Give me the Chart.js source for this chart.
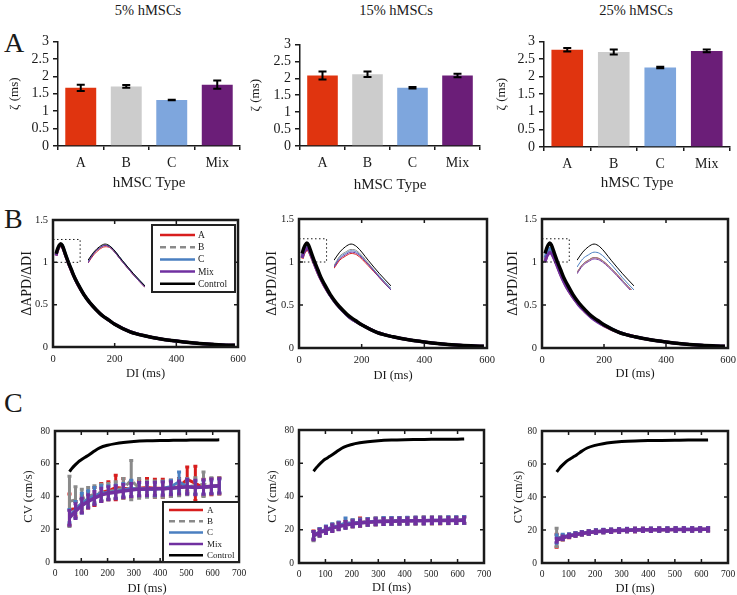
<!DOCTYPE html>
<html>
<head>
<meta charset="utf-8">
<title>hMSC coupling figure</title>
<script src="https://cdn.jsdelivr.net/npm/chart.js@4.4.1/dist/chart.umd.min.js"></script>
<style>
  html, body { margin: 0; padding: 0; background: #fff; }
  body { width: 737px; height: 595px; overflow: hidden; position: relative;
         font-family: "Liberation Serif", "Times New Roman", serif; color: #1a1a1a; }
  .panel { position: absolute; }
  .panel canvas { display: block; }
  .txt { position: absolute; transform: translate(-50%, -50%); white-space: nowrap; }
  .head { font-size: 14.5px; }
  .letter { font-size: 28px; transform: translate(0, -50%); }
</style>
</head>
<body>
<div class="txt head" style="left:148px;top:10px">5% hMSCs</div>
<div class="txt head" style="left:396px;top:10px">15% hMSCs</div>
<div class="txt head" style="left:636px;top:10px">25% hMSCs</div>
<div class="txt letter" style="left:4px;top:43px">A</div>
<div class="txt letter" style="left:4px;top:219px">B</div>
<div class="txt letter" style="left:4px;top:403px">C</div>

<script>
const FONT = '"Liberation Serif", "Times New Roman", serif';
const INK = '#1a1a1a';

// ---- row A: zeta per hMSC type ----
const hmscTypes = ['A', 'B', 'C', 'Mix'];
const zetaTicks = [0, 0.5, 1, 1.5, 2, 2.5, 3];
const zeta5 = [1.67, 1.71, 1.32, 1.76];
const zeta5Err = [0.09, 0.04, 0.01, 0.12];
const zeta15 = [2.08, 2.12, 1.72, 2.08];
const zeta15Err = [0.12, 0.08, 0.02, 0.05];
const zeta25 = [2.76, 2.70, 2.26, 2.73];
const zeta25Err = [0.05, 0.07, 0.02, 0.04];

// ---- row B: restitution slope ----
const apdXTicks = [0, 200, 400, 600];
const apdYTicks = [0, 0.5, 1, 1.5];
const apdDI = [10, 15, 20, 25, 30, 40, 50, 60, 70, 80, 100, 120, 140, 160, 180, 200, 250, 300, 350, 400, 450, 500, 550, 590];
const apdControl = [1.10, 1.16, 1.20, 1.22, 1.20, 1.10, 1.00, 0.91, 0.82, 0.75, 0.62, 0.52, 0.44, 0.37, 0.32, 0.27, 0.18, 0.13, 0.095, 0.07, 0.05, 0.035, 0.025, 0.02];
const apd5A = [1.08, 1.14, 1.18, 1.20, 1.19, 1.09, 0.99, 0.90, 0.82, 0.74, 0.62, 0.52, 0.44, 0.37, 0.32, 0.27, 0.18, 0.13, 0.095, 0.07, 0.05, 0.035, 0.025, 0.02];
const apd5B = [1.09, 1.15, 1.19, 1.21, 1.19, 1.09, 0.99, 0.90, 0.82, 0.75, 0.62, 0.52, 0.44, 0.37, 0.32, 0.27, 0.18, 0.13, 0.095, 0.07, 0.05, 0.035, 0.025, 0.02];
const apd5C = [1.09, 1.15, 1.19, 1.21, 1.20, 1.10, 1.00, 0.91, 0.82, 0.75, 0.62, 0.52, 0.44, 0.37, 0.32, 0.27, 0.18, 0.13, 0.095, 0.07, 0.05, 0.035, 0.025, 0.02];
const apd5Mix = [1.08, 1.15, 1.19, 1.21, 1.19, 1.09, 0.99, 0.90, 0.82, 0.74, 0.62, 0.52, 0.44, 0.37, 0.32, 0.27, 0.18, 0.13, 0.095, 0.07, 0.05, 0.035, 0.025, 0.02];
const apd15A = [1.04, 1.10, 1.13, 1.15, 1.14, 1.06, 0.97, 0.88, 0.80, 0.73, 0.61, 0.51, 0.43, 0.36, 0.31, 0.27, 0.18, 0.13, 0.095, 0.07, 0.05, 0.035, 0.025, 0.02];
const apd15B = [1.06, 1.13, 1.16, 1.18, 1.17, 1.08, 0.98, 0.89, 0.81, 0.74, 0.61, 0.51, 0.43, 0.36, 0.31, 0.27, 0.18, 0.13, 0.095, 0.07, 0.05, 0.035, 0.025, 0.02];
const apd15C = [1.05, 1.12, 1.15, 1.17, 1.16, 1.07, 0.98, 0.89, 0.81, 0.74, 0.61, 0.51, 0.43, 0.36, 0.31, 0.27, 0.18, 0.13, 0.095, 0.07, 0.05, 0.035, 0.025, 0.02];
const apd15Mix = [1.05, 1.11, 1.14, 1.16, 1.15, 1.07, 0.97, 0.88, 0.80, 0.73, 0.61, 0.51, 0.43, 0.36, 0.31, 0.27, 0.18, 0.13, 0.095, 0.07, 0.05, 0.035, 0.025, 0.02];
const apd25A = [1.01, 1.07, 1.10, 1.12, 1.11, 1.04, 0.95, 0.86, 0.78, 0.71, 0.59, 0.50, 0.42, 0.36, 0.31, 0.26, 0.18, 0.13, 0.095, 0.07, 0.05, 0.035, 0.025, 0.02];
const apd25B = [1.01, 1.07, 1.10, 1.12, 1.11, 1.04, 0.95, 0.86, 0.78, 0.71, 0.59, 0.50, 0.42, 0.36, 0.31, 0.26, 0.18, 0.13, 0.095, 0.07, 0.05, 0.035, 0.025, 0.02];
const apd25C = [1.05, 1.11, 1.14, 1.16, 1.15, 1.07, 0.97, 0.88, 0.80, 0.72, 0.60, 0.51, 0.43, 0.36, 0.31, 0.27, 0.18, 0.13, 0.095, 0.07, 0.05, 0.035, 0.025, 0.02];
const apd25Mix = [1.00, 1.06, 1.09, 1.11, 1.10, 1.03, 0.94, 0.85, 0.77, 0.70, 0.59, 0.49, 0.42, 0.35, 0.30, 0.26, 0.18, 0.13, 0.095, 0.07, 0.05, 0.035, 0.025, 0.02];
// dotted window that the small inset magnifies
const zoomWindowDI = [0, 88];
const zoomWindowRatio = [1.0, 1.27];
const insetDI = [10, 60];
const insetRatio = [0.88, 1.25];

// ---- row C: conduction velocity ----
const cvXTicks = [0, 100, 200, 300, 400, 500, 600, 700];
const cvYTicks = [0, 20, 40, 60, 80];
const cvDI = [55, 78, 102, 126, 150, 176, 203, 231, 260, 290, 320, 350, 380, 410, 441, 472, 503, 534, 565, 595, 625];
const cvControlDI = [55, 65, 75, 90, 100, 115, 130, 150, 170, 200, 230, 260, 300, 350, 400, 450, 500, 550, 600, 625];
const cvControl = [55.2, 57.2, 59.0, 61.3, 62.5, 64.0, 65.5, 67.8, 69.7, 71.3, 72.3, 73.0, 73.6, 74.0, 74.2, 74.3, 74.4, 74.5, 74.5, 74.6];

const cv5A = [32, 32.5, 35.5, 38, 40, 42.5, 43.5, 45.5, 45, 44.5, 45, 45.5, 45, 45, 45, 46, 50.5, 48, 45.5, 46, 46.5];
const cv5AErr = [9.5, 4.5, 5, 5, 5.5, 5.5, 5.5, 7.5, 6, 5, 5, 5.5, 5.5, 5.5, 5, 5, 7.5, 10.5, 5, 5, 5];
const cv5B = [37, 38, 38.5, 40, 41.5, 42.5, 43, 44, 45, 50, 45, 44.5, 44.5, 44.5, 45, 45.5, 46, 46.5, 47.5, 46.5, 46.5];
const cv5BErr = [15.3, 8, 6, 5.5, 5, 5, 5, 5, 6, 12, 6, 5, 5, 5, 5, 5, 5, 5, 7.5, 5, 5];
const cv5C = [28, 32, 36, 38.5, 40.5, 42, 42.5, 43, 44, 45, 44.5, 44.5, 44.5, 45, 46, 49, 46, 45.5, 45.5, 46, 46.5];
const cv5CErr = [4, 5, 6, 5, 5, 4.5, 4, 4, 4, 5, 4, 4, 4, 4, 4, 6, 4, 4, 4, 4, 4];
const cv5Mix = [27, 31, 34.5, 37, 39, 41, 42, 42.6, 43.4, 44, 44.5, 44.6, 44.7, 44.8, 45, 45.5, 46, 45.5, 45.8, 46.2, 46.5];
const cv5MixErr = [4.5, 4.5, 4.5, 4, 4, 4, 4, 4, 4, 4, 4, 4, 4, 4, 4, 4, 4.5, 4.5, 4.5, 4.5, 4.5];

const cv15A = [16.8, 18.6, 20, 21.3, 22.4, 23.2, 23.8, 24.5, 24.7, 25, 25.2, 25.2, 25.3, 25.4, 25.5, 25.6, 25.6, 25.6, 25.7, 25.7, 25.8];
const cv15AErr = [2.5, 2, 2, 2, 2, 2, 2, 2.5, 2, 2, 2, 2, 2, 2, 2, 2, 2, 2, 2, 2, 2];
const cv15B = [16.2, 18.2, 19.8, 21.1, 22.1, 23, 23.7, 24.2, 24.6, 24.9, 25.1, 25.2, 25.3, 25.3, 25.4, 25.5, 25.5, 25.6, 25.6, 25.7, 25.7];
const cv15BErr = [2.8, 2.2, 2, 2, 2, 2, 2, 2, 2, 2, 2, 2, 2, 2, 2, 2, 2, 2, 2, 2, 2];
const cv15C = [16.8, 18.7, 20.3, 21.6, 22.6, 24, 24, 24.4, 24.8, 25.1, 25.3, 25.3, 25.4, 25.5, 25.6, 25.6, 25.7, 25.7, 25.8, 25.8, 25.9];
const cv15CErr = [2.2, 2, 2, 2, 2, 3, 2, 2, 2, 2, 2, 2, 2, 2, 2, 2, 2, 2, 2, 2, 2];
const cv15Mix = [16.5, 18.3, 19.8, 21, 22, 22.9, 23.6, 24.1, 24.5, 24.8, 25, 25.1, 25.2, 25.3, 25.4, 25.4, 25.5, 25.5, 25.6, 25.6, 25.7];
const cv15MixErr = [2.5, 2, 2, 2, 2, 2, 1.8, 1.8, 1.8, 1.8, 1.8, 1.8, 1.8, 1.8, 1.8, 1.8, 1.8, 1.8, 1.8, 1.8, 1.8];

const cv25A = [13.5, 15.2, 16.3, 17.2, 17.9, 18.5, 19, 19.3, 19.5, 19.7, 19.9, 20, 20.1, 20.1, 20.2, 20.2, 20.3, 20.3, 20.3, 20.4, 20.4];
const cv25AErr = [4, 1.2, 1, 1, 1, 1, 1, 1, 1, 1, 1, 1, 1, 1, 1, 1, 1, 1, 1, 1, 1];
const cv25B = [15.5, 15.5, 16.5, 17.3, 18, 18.5, 19, 19.3, 19.5, 19.7, 19.9, 20, 20.1, 20.1, 20.2, 20.2, 20.3, 20.3, 20.3, 20.4, 20.4];
const cv25BErr = [5.5, 1.5, 1, 1, 1, 1, 1, 1, 1, 1, 1, 1, 1, 1, 1, 1, 1, 1, 1, 1, 1];
const cv25C = [14.5, 16, 16.8, 17.5, 18.1, 18.6, 19.1, 19.4, 19.6, 19.8, 20, 20.1, 20.1, 20.2, 20.2, 20.3, 20.3, 20.4, 20.4, 20.4, 20.5];
const cv25CErr = [2.5, 1.5, 1, 1, 1, 1, 1, 1, 1, 1, 1, 1, 1, 1, 1, 1, 1, 1, 1, 1, 1];
const cv25Mix = [13.8, 15.3, 16.4, 17.2, 17.9, 18.5, 19.0, 19.3, 19.5, 19.7, 19.9, 20, 20.1, 20.1, 20.2, 20.2, 20.3, 20.3, 20.3, 20.4, 20.4];
const cv25MixErr = [1.2, 1, 1, 1, 1, 1, 1, 1, 1, 1, 1, 1, 1, 1, 1, 1, 1, 1, 1, 1, 1];

// ---- styles ----
const seriesNames = ['A', 'B', 'C', 'Mix', 'Control'];
const seriesColors = ['#d81e1e', '#8a8a8a', '#4a7fc1', '#7030a0', '#000000'];
const seriesDash = [[], [6, 4], [], [], []];
const barColors = ['#e0340f', '#cccccc', '#7ea6dd', '#6b1e78'];

Chart.defaults.font.family = FONT;
Chart.defaults.color = INK;

// draws vertical error bars right after each dataset, so later series cover earlier ones
const errorBarPlugin = {
  id: 'errorBars',
  afterDatasetDraw(chart, args) {
    const ds = chart.data.datasets[args.index];
    if (!ds.errorBars) return;
    const { ctx, chartArea: a } = chart;
    const yScale = chart.scales.y;
    const cap = ds.errorCap || 0;
    ctx.save();
    ctx.beginPath();
    ctx.rect(a.left, a.top, a.width, a.height);
    ctx.clip();
    ctx.strokeStyle = ds.errorColor || ds.borderColor;
    ctx.lineWidth = ds.errorWidth || 2;
    ctx.setLineDash([]);
    args.meta.data.forEach((el, i) => {
      const raw = ds.data[i];
      const v = typeof raw === 'object' ? raw.y : raw;
      const e = ds.errorBars[i];
      const top = yScale.getPixelForValue(v + e);
      const bot = yScale.getPixelForValue(v - e);
      ctx.beginPath();
      ctx.moveTo(el.x, top);
      ctx.lineTo(el.x, bot);
      if (cap) {
        ctx.moveTo(el.x - cap, top); ctx.lineTo(el.x + cap, top);
        ctx.moveTo(el.x - cap, bot); ctx.lineTo(el.x + cap, bot);
      }
      ctx.stroke();
    });
    ctx.restore();
  }
};

// MATLAB style box with inward ticks on all four sides
const framePlugin = {
  id: 'frame',
  afterDatasetsDraw(chart) {
    const { ctx, chartArea: a, scales } = chart;
    ctx.save();
    ctx.strokeStyle = INK;
    ctx.lineWidth = 1.5;
    scales.x.ticks.forEach(t => {
      const px = scales.x.getPixelForValue(t.value);
      if (px < a.left + 3 || px > a.right - 3) return;
      ctx.beginPath();
      ctx.moveTo(px, a.bottom); ctx.lineTo(px, a.bottom - 4);
      ctx.moveTo(px, a.top); ctx.lineTo(px, a.top + 4);
      ctx.stroke();
    });
    scales.y.ticks.forEach(t => {
      const py = scales.y.getPixelForValue(t.value);
      if (py < a.top + 3 || py > a.bottom - 3) return;
      ctx.beginPath();
      ctx.moveTo(a.left, py); ctx.lineTo(a.left + 4, py);
      ctx.moveTo(a.right, py); ctx.lineTo(a.right - 4, py);
      ctx.stroke();
    });
    ctx.lineWidth = 2.5;
    ctx.strokeRect(a.left, a.top, a.width, a.height);
    ctx.restore();
  }
};

const zoomBoxPlugin = {
  id: 'zoomBox',
  afterDatasetsDraw(chart, args, o) {
    if (!o || !o.show) return;
    const { ctx, scales } = chart;
    const x0 = scales.x.getPixelForValue(zoomWindowDI[0]);
    const x1 = scales.x.getPixelForValue(zoomWindowDI[1]);
    const y0 = scales.y.getPixelForValue(zoomWindowRatio[1]);
    const y1 = scales.y.getPixelForValue(zoomWindowRatio[0]);
    ctx.save();
    ctx.strokeStyle = INK;
    ctx.lineWidth = 1;
    ctx.setLineDash([1.5, 2.5]);
    ctx.strokeRect(x0, y0, x1 - x0, y1 - y0);
    ctx.restore();
  }
};

const boxLegendPlugin = {
  id: 'boxLegend',
  afterDraw(chart, args, o) {
    if (!o || !o.show) return;
    const { ctx, chartArea: a } = chart;
    const left = a.right - o.fromRight;
    const top = o.fromTop != null ? a.top + o.fromTop : a.bottom - o.h;
    ctx.save();
    ctx.fillStyle = '#fff';
    ctx.fillRect(left, top, o.w, o.h);
    ctx.strokeStyle = '#222';
    ctx.lineWidth = 2;
    ctx.strokeRect(left, top, o.w, o.h);
    ctx.font = o.size + 'px ' + FONT;
    ctx.textBaseline = 'middle';
    seriesNames.forEach((name, i) => {
      const y = top + o.first + i * o.gap;
      ctx.strokeStyle = seriesColors[i];
      ctx.lineWidth = 2.5;
      ctx.setLineDash(seriesDash[i]);
      ctx.beginPath();
      ctx.moveTo(left + o.x0, y);
      ctx.lineTo(left + o.x1, y);
      ctx.stroke();
      ctx.setLineDash([]);
      ctx.fillStyle = INK;
      ctx.fillText(name, left + o.tx, y + 0.5);
    });
    ctx.restore();
  }
};

// builds an absolutely placed canvas whose plot area lands on `area` = [left, top, right, bottom]
function mount(area, yTitleX, xTitleY, yTitleSize, xTitleSize) {
  const [l, t, r, b] = area;
  const padL = Math.round(l - yTitleX + yTitleSize * 0.6);
  const padB = Math.round(xTitleY + xTitleSize * 0.6 - b);
  const padT = 12, padR = 18;
  const w = r - l + padL + padR;
  const h = b - t + padT + padB;
  const div = document.createElement('div');
  div.className = 'panel';
  div.style.left = (l - padL) + 'px';
  div.style.top = (t - padT) + 'px';
  const cv = document.createElement('canvas');
  cv.width = w; cv.height = h;
  cv.style.width = w + 'px'; cv.style.height = h + 'px';
  div.appendChild(cv);
  document.body.appendChild(div);
  return { cv, padL, padB, padT, padR };
}

function lineSet(i, xs, ys, width, errs, smooth) {
  return {
    label: seriesNames[i],
    data: xs.map((x, k) => ({ x, y: ys[k] })),
    borderColor: seriesColors[i],
    borderWidth: width,
    borderDash: seriesDash[i],
    pointRadius: 0,
    fill: false,
    tension: 0,
    cubicInterpolationMode: smooth ? 'monotone' : 'default',
    order: 5 - i,
    errorBars: errs || null,
    errorWidth: 3,
    errorCap: 2,
  };
}

function barPanel(area, yTitleX, xTitleY, values, errs) {
  const m = mount(area, yTitleX, xTitleY, 13, 15);
  new Chart(m.cv, {
    type: 'bar',
    data: {
      labels: hmscTypes,
      datasets: [{
        data: values,
        backgroundColor: barColors,
        barPercentage: 0.68,
        categoryPercentage: 1,
        errorBars: errs,
        errorColor: '#000',
        errorWidth: 2,
        errorCap: 4,
      }]
    },
    options: {
      responsive: false,
      animation: false,
      layout: { padding: { left: 0, top: m.padT, right: m.padR, bottom: 0 } },
      plugins: { legend: { display: false }, tooltip: { enabled: false } },
      scales: {
        x: {
          grid: { drawOnChartArea: false, color: INK, lineWidth: 1.5, tickLength: 4 },
          border: { color: INK, width: 1.5 },
          ticks: { color: INK, font: { size: 14 }, padding: 5, maxRotation: 0 },
          title: { display: true, text: 'hMSC Type', color: INK, font: { size: 15 }, padding: 0 },
          afterFit: s => { s.height = m.padB; }
        },
        y: {
          min: 0, max: 3,
          afterBuildTicks: s => { s.ticks = zetaTicks.map(v => ({ value: v })); },
          grid: { drawOnChartArea: false, color: INK, lineWidth: 1.5, tickLength: 5 },
          border: { color: INK, width: 1.5 },
          ticks: { color: INK, font: { size: 14 }, padding: 4, autoSkip: false, callback: v => String(v) },
          title: { display: true, text: 'ζ (ms)', color: INK, font: { size: 13 }, padding: 0 },
          afterFit: s => { s.width = m.padL; }
        }
      }
    },
    plugins: [errorBarPlugin]
  });
}

function frameScales(m, xTicks, yTicks, xMax, yMax, yTitle, tickSize, yTitleSize) {
  return {
    x: {
      type: 'linear', min: 0, max: xMax,
      afterBuildTicks: s => { s.ticks = xTicks.map(v => ({ value: v })); },
      grid: { display: false, drawTicks: false },
      border: { display: false },
      ticks: { color: INK, font: { size: tickSize }, padding: 6, autoSkip: false, maxRotation: 0, callback: v => String(v) },
      title: { display: true, text: 'DI (ms)', color: INK, font: { size: 12.5 }, padding: 0 },
      afterFit: s => { s.height = m.padB; }
    },
    y: {
      min: 0, max: yMax,
      afterBuildTicks: s => { s.ticks = yTicks.map(v => ({ value: v })); },
      grid: { display: false, drawTicks: false },
      border: { display: false },
      ticks: { color: INK, font: { size: tickSize }, padding: 5, autoSkip: false, callback: v => String(v) },
      title: { display: true, text: yTitle, color: INK, font: { size: yTitleSize }, padding: 0 },
      afterFit: s => { s.width = m.padL; }
    }
  };
}

function apdPanel(area, yTitleX, xTitleY, curves, withLegend) {
  const m = mount(area, yTitleX, xTitleY, 14, 12.5);
  const datasets = curves.map((ys, i) => lineSet(i, apdDI, ys, i === 4 ? 3.5 : 3, null, true));
  new Chart(m.cv, {
    type: 'line',
    data: { datasets },
    options: {
      responsive: false,
      animation: false,
      layout: { padding: { left: 0, top: m.padT, right: m.padR, bottom: 0 } },
      plugins: {
        legend: { display: false }, tooltip: { enabled: false },
        zoomBox: { show: true },
        boxLegend: withLegend ? { show: true, fromRight: 86, w: 83, fromTop: 5, h: 67, first: 10, gap: 12.2, x0: 8, x1: 43, tx: 46, size: 9.5 } : { show: false }
      },
      scales: frameScales(m, apdXTicks, apdYTicks, 600, 1.5, 'ΔAPD/ΔDI', 10.5, 14)
    },
    plugins: [zoomBoxPlugin, framePlugin, boxLegendPlugin]
  });

  // magnified inset of the dotted window
  const div = document.createElement('div');
  div.className = 'panel';
  div.style.left = (area[0] + 35) + 'px';
  div.style.top = '240px';
  const cv = document.createElement('canvas');
  cv.width = 57; cv.height = 50;
  cv.style.width = '57px'; cv.style.height = '50px';
  div.appendChild(cv);
  document.body.appendChild(div);
  new Chart(cv, {
    type: 'line',
    data: {
      datasets: curves.map((ys, i) => Object.assign(lineSet(i, apdDI, ys, 1, null, true), { borderDash: [] }))
    },
    options: {
      responsive: false,
      animation: false,
      layout: { padding: 0 },
      plugins: { legend: { display: false }, tooltip: { enabled: false } },
      scales: {
        x: { type: 'linear', display: false, min: insetDI[0], max: insetDI[1] },
        y: { display: false, min: insetRatio[0], max: insetRatio[1] }
      }
    }
  });
}

function cvPanel(area, yTitleX, xTitleY, series, withLegend) {
  const m = mount(area, yTitleX, xTitleY, 12.5, 12.5);
  const datasets = series.map((pair, i) => lineSet(i, cvDI, pair[0], i === 3 ? 3.5 : 3, pair[1], false));
  datasets.push(lineSet(4, cvControlDI, cvControl, 3, null, true));
  new Chart(m.cv, {
    type: 'line',
    data: { datasets },
    options: {
      responsive: false,
      animation: false,
      layout: { padding: { left: 0, top: m.padT, right: m.padR, bottom: 0 } },
      plugins: {
        legend: { display: false }, tooltip: { enabled: false },
        boxLegend: withLegend ? { show: true, fromRight: 76, w: 76, fromTop: null, h: 60, first: 8, gap: 11.3, x0: 6, x1: 40, tx: 44, size: 9 } : { show: false }
      },
      scales: frameScales(m, cvXTicks, cvYTicks, 700, 80, 'CV (cm/s)', 9.5, 12.5)
    },
    plugins: [errorBarPlugin, framePlugin, boxLegendPlugin]
  });
}

// row A
barPanel([58, 41, 240, 146], 15, 183, zeta5, zeta5Err);
barPanel([300, 44, 480, 146], 256, 185, zeta15, zeta15Err);
barPanel([544, 41, 730, 147], 502, 183, zeta25, zeta25Err);

// row B
apdPanel([53, 220, 238, 347], 27, 373, [apd5A, apd5B, apd5C, apd5Mix, apdControl], true);
apdPanel([299, 219, 487, 348], 272, 375, [apd15A, apd15B, apd15C, apd15Mix, apdControl], false);
apdPanel([542, 219, 728, 348], 513, 373, [apd25A, apd25B, apd25C, apd25Mix, apdControl], false);

// row C
cvPanel([55, 431, 239, 562], 29, 588, [[cv5A, cv5AErr], [cv5B, cv5BErr], [cv5C, cv5CErr], [cv5Mix, cv5MixErr]], true);
cvPanel([299, 430, 484, 563], 273, 587, [[cv15A, cv15AErr], [cv15B, cv15BErr], [cv15C, cv15CErr], [cv15Mix, cv15MixErr]], false);
cvPanel([542, 431, 728, 563], 519, 588, [[cv25A, cv25AErr], [cv25B, cv25BErr], [cv25C, cv25CErr], [cv25Mix, cv25MixErr]], false);
</script>
</body>
</html>
